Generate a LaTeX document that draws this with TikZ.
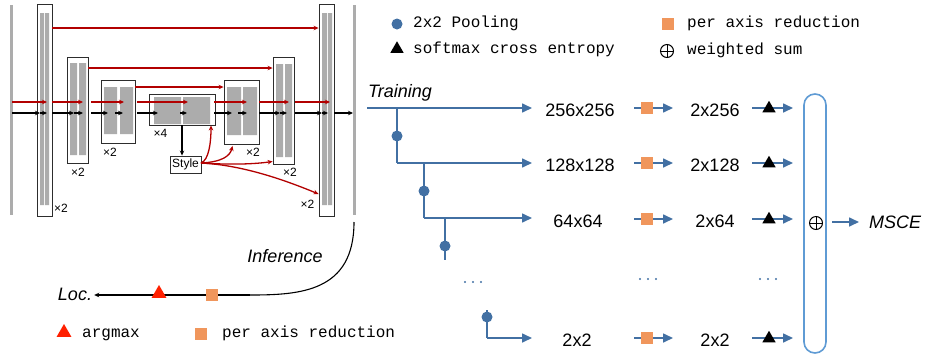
\documentclass[tikz,border=0pt]{standalone}
\usepackage{fontspec}
\setmainfont{Liberation Sans}
\newfontfamily\cour{Liberation Mono}
\usetikzlibrary{arrows.meta,shapes.geometric}
\definecolor{bargray}{RGB}{172,172,172}
\definecolor{boxc}{RGB}{45,45,45}
\definecolor{skipred}{RGB}{178,0,0}
\definecolor{lineblue}{RGB}{66,112,163}
\definecolor{capblue}{RGB}{95,155,212}
\definecolor{sqorange}{RGB}{240,150,92}
\definecolor{trired}{RGB}{255,32,0}
\tikzset{
  netbox/.style={draw=boxc, line width=0.9pt, fill=white, inner sep=0pt},
  graybar/.style={fill=bargray, draw=none},
  redarr/.style={draw=skipred, line width=1.3pt, -{Stealth[length=5pt,width=4.5pt]}},
  blkarr/.style={draw=black, line width=1.1pt, -{Stealth[length=5pt,width=4.5pt]}},
  bluearr/.style={draw=lineblue, line width=1.6pt, -{Triangle[length=10pt,width=9pt]}},
  blueline/.style={draw=lineblue, line width=1.6pt},
  bdot/.style={circle, fill=lineblue, inner sep=0pt, minimum size=11pt},
  osq/.style={rectangle, fill=sqorange, inner sep=0pt, minimum size=12pt},
  btri/.style={regular polygon, regular polygon sides=3, fill=black, inner sep=0pt, minimum size=15.5pt},
  rtri/.style={regular polygon, regular polygon sides=3, fill=trired, inner sep=0pt, minimum size=17pt},
  times/.style={font=\fontsize{12}{13}\selectfont, inner sep=0pt},
  lbl/.style={font=\fontsize{18}{20}\selectfont, inner sep=0pt},
  ilbl/.style={font=\fontsize{18}{20}\selectfont\itshape, inner sep=0pt},
  leg/.style={font=\cour\fontsize{16}{18}\selectfont, inner sep=0pt, anchor=west, text height=1.6ex, text depth=0.45ex},
  oplus/.style={circle, draw=black, line width=1pt, inner sep=0pt, minimum size=13pt,
    path picture={\draw[line width=1pt] (path picture bounding box.north) -- (path picture bounding box.south)
      (path picture bounding box.west) -- (path picture bounding box.east);}},
  ellip/.style={inner sep=0pt, minimum width=22pt, minimum height=4pt,
    path picture={\foreach \k in {-8,0,8}{\fill[#1] ([xshift=\k pt]path picture bounding box.center) circle (1.1pt);}}},
}
\begin{document}
\begin{tikzpicture}[x=1pt,y=-1pt]
\useasboundingbox (0,0) rectangle (926,354);

% ---------------- network ----------------
\draw[bargray, line width=3pt] (11,5) -- (11,215);
\draw[bargray, line width=3pt] (354,5) -- (354,215);

\node[netbox, minimum width=15pt, minimum height=212pt] (b1) at (44.5,110) {};
\node[netbox, minimum width=21pt, minimum height=106pt] (b2) at (77.5,110) {};
\node[netbox, minimum width=34pt, minimum height=63pt] (b3) at (118,111.5) {};
\node[netbox, minimum width=66pt, minimum height=31pt] (b4) at (182,109.5) {};
\node[netbox, minimum width=35pt, minimum height=64pt] (b5) at (241.5,112) {};
\node[netbox, minimum width=21pt, minimum height=107pt] (b6) at (283.5,110.5) {};
\node[netbox, minimum width=15pt, minimum height=212pt] (b7) at (326.5,110) {};

\fill[graybar] (40,13) rectangle (44,205) (45,13) rectangle (49,205);
\fill[graybar] (70,63) rectangle (77,155) (79,63) rectangle (86,155);
\fill[graybar] (104,87) rectangle (117,134) (120,87) rectangle (133,134);
\fill[graybar] (154,97) rectangle (181,124) (183,97) rectangle (210,124);
\fill[graybar] (227,87) rectangle (241,135) (243,87) rectangle (257,135);
\fill[graybar] (276,64) rectangle (283,157) (285,64) rectangle (292,157);
\fill[graybar] (322,13) rectangle (327,205) (328,13) rectangle (332,205);

\node[times] (t1) at (61,208) {×2};
\node[times] (t2) at (78,172) {×2};
\node[times] (t3) at (110,152) {×2};
\node[times] (t4) at (160.5,133) {×4};
\node[times] (t5) at (253,152) {×2};
\node[times] (t6) at (290,172) {×2};
\node[times] (t7) at (307.5,204) {×2};

% skip connections
\coordinate (ya) at (0,28);
\coordinate (yb) at (0,68);
\coordinate (yc) at (0,87);
\draw[redarr] (b1.east |- ya) -- (b7.west |- ya);
\draw[redarr] (b2.east |- yb) -- (b6.west |- yb);
\draw[redarr] (b3.east |- yc) -- (b5.west |- yc);

% main red flow
\foreach \a/\b in {12/47,52/83,91/124,137/188,214/247,259/289,295/330}
  \draw[redarr] (\a,102) -- (\b,102);
% main black flow
\foreach \a/\b in {12/40,40/47,52/74,74/83,91/108,115/123,137/158,180/187,214/232,238/247,259/280,280/287,295/322,322/328,334/353}
  \draw[blkarr] (\a,113) -- (\b,113);

% style
\node[netbox, font=\fontsize{12}{13}\selectfont, minimum width=31pt, minimum height=17pt] (sty) at (185.5,164.5) {Style};
\draw[blkarr] (b4.south) -- (sty.north -| b4.south);
\coordinate (sa) at (201,163);
\draw[redarr] (sa) .. controls (209,160) and (211,142) .. ([xshift=29pt]b4.south);
\draw[redarr] (sa) .. controls (222,162) and (230,156) .. ([xshift=-9pt,yshift=-1.5pt]b5.south);
\draw[redarr] (sa) .. controls (232,165) and (255,164) .. ([yshift=-51pt]b6.west);
\draw[redarr] (sa) .. controls (240,165) and (280,178) .. ([yshift=-84pt]b7.west);

% ---------------- inference ----------------
\coordinate (infs) at (354,222);
\node[ilbl] (inf) at (285,256) {Inference};
\node[ilbl] (loc) at (75,294) {Loc.};
\coordinate (infm) at (250,295);
\draw[line width=1.1pt] (infs) .. controls (354,292) and (300,295) .. (infm);
\draw[blkarr] (infm) -- ([xshift=2pt]loc.east |- infm);
\node[osq] (isq) at (212,295) {};
\node[rtri] (itri) at (159,293.5) {};

% bottom legend
\node[rtri] (lt1) at (64,332.5) {};
\node[leg] (lt1t) at (82,334) {argmax};
\node[osq] (ls1) at (201,334) {};
\node[leg] (ls1t) at (222,334) {per axis reduction};

% ---------------- top legend ----------------
\node[bdot] (lgd) at (397,24) {};
\node[leg] (lgdt) at (413,24) {2x2 Pooling};
\node[btri] (lgt) at (397,49) {};
\node[leg] (lgtt) at (413,50) {softmax cross entropy};
\node[osq] (lgs) at (668,24) {};
\node[leg] (lgst) at (687,24) {per axis reduction};
\node[oplus] (lgo) at (667,51) {};
\node[leg] (lgot) at (687,51) {weighted sum};

% ---------------- training ----------------
\node[ilbl, anchor=west] (train) at (368,93) {Training};
\coordinate (tr) at (367,108);
\coordinate (e1) at (532,108);
\coordinate (e2) at (532,163);
\coordinate (e3) at (532,218);
\coordinate (e4) at (532,338);
\coordinate (v1) at (397,108);
\coordinate (v2) at (424,163);
\coordinate (v3) at (445,218);
\coordinate (v3e) at (445,260);
\coordinate (v4s) at (487,310);
\coordinate (v4) at (487,338);

\draw[bluearr] (tr) -- (e1);
\draw[blueline] (v1) -- (v1 |- e2);
\draw[bluearr] (v1 |- e2) -- (e2);
\draw[blueline] (v2) -- (v2 |- e3);
\draw[bluearr] (v2 |- e3) -- (e3);
\draw[blueline] (v3) -- (v3e);
\draw[blueline] (v4s) -- (v4);
\draw[bluearr] (v4) -- (e4);
\node[bdot] (d1) at (397,136) {};
\node[bdot] (d2) at (424,191) {};
\node[bdot] (d3) at (445,246) {};
\node[bdot] (d4) at (487,317) {};
\node[ellip=lineblue] (dots1) at (473,282) {};

\node[lbl] (r1) at (580,110.5) {256x256};
\node[lbl] (r2) at (580,165.5) {128x128};
\node[lbl] (r3) at (578,221) {64x64};
\node[lbl] (r4) at (577,340) {2x2};
\node[lbl] (s1) at (715,110.5) {2x256};
\node[lbl] (s2) at (715,165.5) {2x128};
\node[lbl] (s3) at (715,221) {2x64};
\node[lbl] (s4) at (715,340) {2x2};
\node[ellip=lineblue] (dots2) at (648,279) {};
\node[ellip=lineblue] (dots3) at (768,279) {};

\foreach \y in {108,163,219,338}{
  \draw[bluearr] (634,\y) -- (673,\y);
  \node[osq] at (647,\y) {};
  \draw[bluearr] (752,\y) -- (793,\y);
  \node[btri] at (769,\y+0.5) {};
}

% capsule
\draw[capblue, line width=1.6pt, rounded corners=11pt] (804,94) rectangle (826,353);
\node[oplus] (sum) at (816,223) {};
\coordinate (ms) at (832,222);
\node[ilbl, anchor=west] (msce) at (869,222) {MSCE};
\draw[bluearr] (ms) -- ([xshift=-10pt]msce.west);

\end{tikzpicture}
\end{document}
